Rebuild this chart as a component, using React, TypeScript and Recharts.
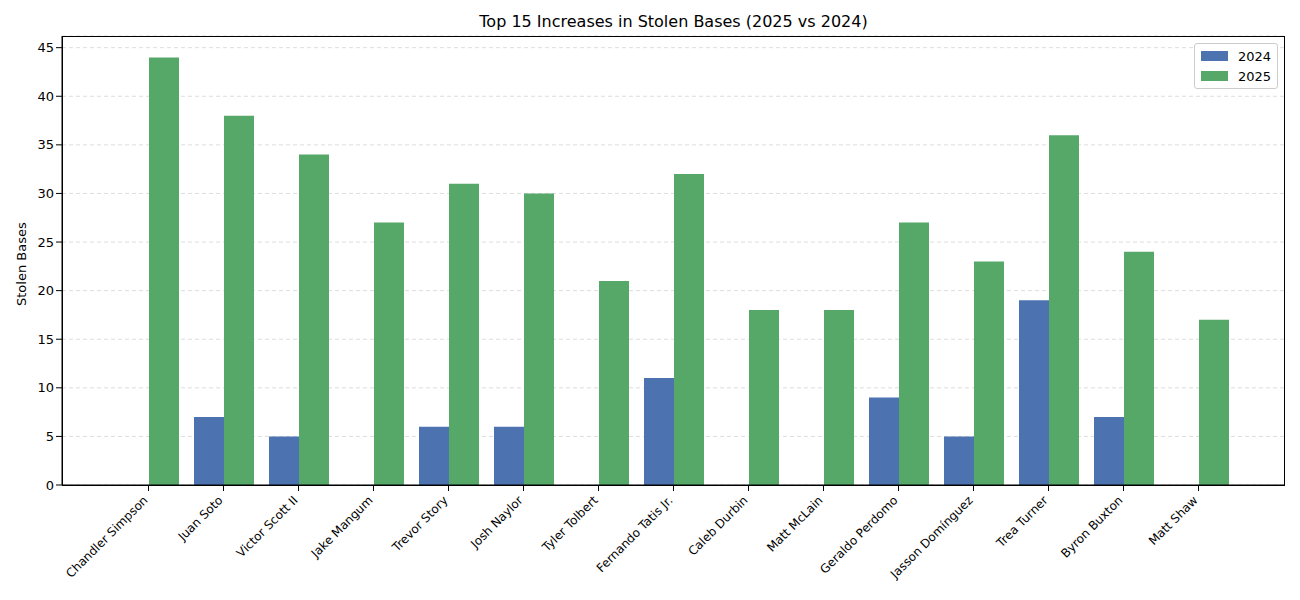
import { Bar, BarChart, CartesianGrid, XAxis, YAxis } from "recharts";

const players = [
  "Chandler Simpson", "Juan Soto", "Victor Scott II", "Jake Mangum", "Trevor Story",
  "Josh Naylor", "Tyler Tolbert", "Fernando Tatis Jr.", "Caleb Durbin", "Matt McLain",
  "Geraldo Perdomo", "Jasson Domínguez", "Trea Turner", "Byron Buxton", "Matt Shaw",
];
const sb2024 = [0, 7, 5, 0, 6, 6, 0, 11, 0, 0, 9, 5, 19, 7, 0];
const sb2025 = [44, 38, 34, 27, 31, 30, 21, 32, 18, 18, 27, 23, 36, 24, 17];
const yTicks = [0, 5, 10, 15, 20, 25, 30, 35, 40, 45];

const data = players.map((name, i) => ({ name, y2024: sb2024[i], y2025: sb2025[i] }));
const font = "DejaVu Sans, sans-serif";

const Tick = (p: any) => (
  <text x={p.x} y={p.y + 8} textAnchor="end" fontSize={12} fontFamily={font} fill="#000"
    transform={`rotate(-45 ${p.x} ${p.y + 8})`}>{p.payload.value}</text>
);

export default function App() {
  return (
    <div style={{ position: "absolute", left: 0, top: 0, width: 1300, height: 600, background: "#fff" }}>
      <div style={{ position: "absolute", top: 12, left: 62, width: 1223, textAlign: "center", fontFamily: font, fontSize: 16 }}>
        Top 15 Increases in Stolen Bases (2025 vs 2024)
      </div>
      <div style={{ position: "absolute", left: 14, top: 306, transform: "rotate(-90deg)", transformOrigin: "0 0", fontFamily: font, fontSize: 13, whiteSpace: "nowrap" }}>
        Stolen Bases
      </div>
      <BarChart width={1300} height={600} data={data} margin={{ top: 36, right: 15, bottom: 85, left: 0 }}
        barGap={0} barCategoryGap={7.5}>
        <CartesianGrid vertical={false} stroke="#ddd" strokeDasharray="4 3" />
        <XAxis dataKey="name" interval={0} tick={<Tick />} padding={{ left: 49, right: 49 }}
          stroke="#000" tickLine={{ stroke: "#000" }} />
        <YAxis width={62} domain={[0, 46.2]} ticks={yTicks} stroke="#000" tickLine={{ stroke: "#000" }}
          tick={{ fill: "#000", fontSize: 13, fontFamily: font }} allowDataOverflow />
        <Bar dataKey="y2024" fill="#4c72b0" barSize={30} isAnimationActive={false} />
        <Bar dataKey="y2025" fill="#55a868" barSize={30} isAnimationActive={false} />
      </BarChart>
      <div style={{ position: "absolute", left: 62, top: 36, width: 1223, height: 450, border: "1px solid #000", boxSizing: "border-box", pointerEvents: "none" }} />
      <div style={{ position: "absolute", top: 43, right: 22, border: "1px solid #ccc", borderRadius: 3, background: "#fff", padding: "2px 6px", fontFamily: font, fontSize: 13 }}>
        {[["2024", "#4c72b0"], ["2025", "#55a868"]].map(([l, c]) => (
          <div key={l} style={{ display: "flex", alignItems: "center", height: 20 }}>
            <span style={{ width: 27, height: 10, background: c, marginRight: 10 }} />{l}
          </div>
        ))}
      </div>
    </div>
  );
}
